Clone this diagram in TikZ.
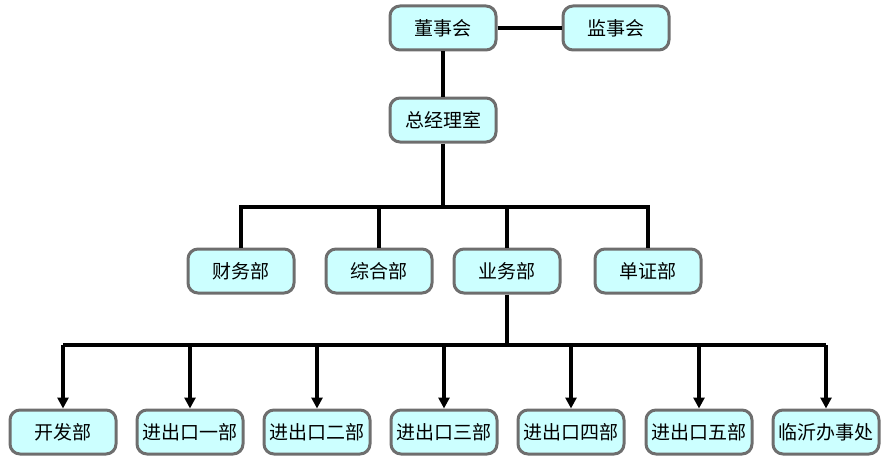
\documentclass[tikz,border=0pt]{standalone}
\usepackage{fontspec}
\setmainfont{Noto Sans CJK SC}
\usetikzlibrary{arrows.meta}
\definecolor{boxfill}{RGB}{204,255,255}
\definecolor{boxline}{RGB}{110,110,110}
\tikzset{
	unit/.style={draw=boxline,line width=3pt,fill=boxfill,rounded corners=10pt,
		minimum width=106pt,minimum height=44pt,inner sep=0pt,
		font=\fontsize{19}{22}\selectfont},
	link/.style={line width=3.2pt,black},
	down/.style={link,-{Triangle[length=11pt,width=11pt]}}
}
\begin{document}
\begin{tikzpicture}[x=1pt,y=-1pt]
	\useasboundingbox (0,0) rectangle (888,460);
	% top
	\node[unit] at (443,28) (dsh) {董事会};
	\node[unit] at (616,28) (jsh) {监事会};
	\node[unit] at (443,120) (zjl) {总经理室};
	% departments
	\node[unit] at (241,271) (cw) {财务部};
	\node[unit] at (379,271) (zh) {综合部};
	\node[unit] at (507,271) (yw) {业务部};
	\node[unit] at (648,271) (dz) {单证部};
	% branches
	\node[unit] at (63,432) (kf) {开发部};
	\node[unit] at (190,432) (jk1) {进出口一部};
	\node[unit] at (317,432) (jk2) {进出口二部};
	\node[unit] at (444,432) (jk3) {进出口三部};
	\node[unit] at (571,432) (jk4) {进出口四部};
	\node[unit] at (699,432) (jk5) {进出口五部};
	\node[unit] at (826,432) (ly) {临沂办事处};
	\coordinate (b1) at (443,207);
	\coordinate (b2) at (508,345);
	\draw[link] (dsh) -- (jsh);
	\draw[link] (dsh) -- (zjl);
	\draw[link] (zjl) -- (b1);
	\draw[link] (cw.north) |- (b1) -| (dz.north);
	\draw[link] (zh.north) -- (zh.north |- b1);
	\draw[link] (yw.north) -- (yw.north |- b1);
	\draw[link] (yw) -- (yw |- b2);
	\draw[link] (kf |- b2) -- (ly |- b2);
	\foreach \n in {kf,jk1,jk2,jk3,jk4,jk5,ly}
		\draw[down] (\n |- b2) -- (\n.north);
\end{tikzpicture}
\end{document}
